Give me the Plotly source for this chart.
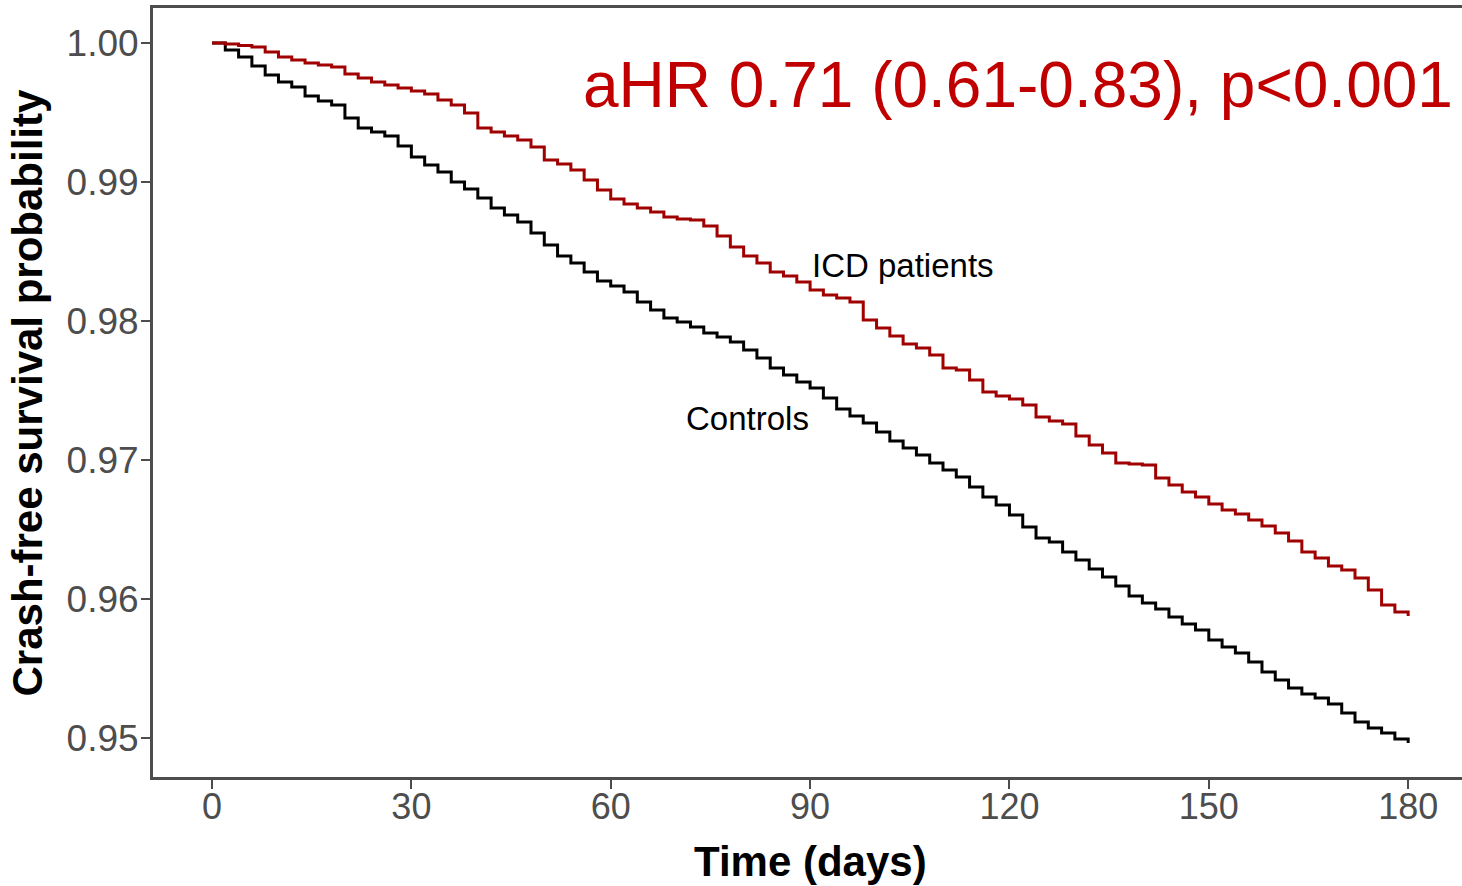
import plotly.graph_objects as go

days = list(range(0, 181, 2))

icd_surv = [
    1.00000, 0.99993, 0.99982, 0.99971, 0.99935, 0.99899, 0.99878, 0.99856, 0.99842, 0.99827,
    0.99777, 0.99748, 0.99719, 0.99698, 0.99676, 0.99655, 0.99633, 0.99590, 0.99554, 0.99496,
    0.99388, 0.99360, 0.99331, 0.99302, 0.99252, 0.99158, 0.99130, 0.99086, 0.99014, 0.98942,
    0.98878, 0.98842, 0.98813, 0.98784, 0.98748, 0.98734, 0.98727, 0.98683, 0.98612, 0.98532,
    0.98468, 0.98417, 0.98353, 0.98324, 0.98281, 0.98223, 0.98187, 0.98166, 0.98137, 0.98007,
    0.97950, 0.97892, 0.97835, 0.97806, 0.97755, 0.97662, 0.97648, 0.97576, 0.97489, 0.97461,
    0.97439, 0.97396, 0.97309, 0.97281, 0.97259, 0.97173, 0.97108, 0.97050, 0.96978, 0.96971,
    0.96964, 0.96871, 0.96820, 0.96770, 0.96734, 0.96684, 0.96640, 0.96612, 0.96568, 0.96525,
    0.96475, 0.96417, 0.96338, 0.96295, 0.96237, 0.96209, 0.96151, 0.96065, 0.95957, 0.95907,
    0.95878,
]

ctrl_surv = [
    1.00000, 0.99950, 0.99899, 0.99835, 0.99770, 0.99719, 0.99683, 0.99619, 0.99583, 0.99554,
    0.99460, 0.99388, 0.99360, 0.99331, 0.99259, 0.99180, 0.99122, 0.99072, 0.99000, 0.98950,
    0.98885, 0.98813, 0.98763, 0.98712, 0.98633, 0.98547, 0.98468, 0.98417, 0.98353, 0.98288,
    0.98252, 0.98209, 0.98137, 0.98079, 0.98022, 0.97993, 0.97957, 0.97914, 0.97885, 0.97849,
    0.97791, 0.97734, 0.97662, 0.97612, 0.97561, 0.97518, 0.97446, 0.97367, 0.97317, 0.97266,
    0.97202, 0.97137, 0.97086, 0.97036, 0.96978, 0.96928, 0.96878, 0.96806, 0.96734, 0.96676,
    0.96604, 0.96518, 0.96439, 0.96410, 0.96338, 0.96281, 0.96216, 0.96158, 0.96094, 0.96022,
    0.95971, 0.95928, 0.95871, 0.95820, 0.95777, 0.95705, 0.95655, 0.95611, 0.95547, 0.95475,
    0.95417, 0.95360, 0.95317, 0.95288, 0.95245, 0.95180, 0.95115, 0.95072, 0.95036, 0.94993,
    0.94964,
]

x_ticks = [0, 30, 60, 90, 120, 150, 180]
y_ticks = [0.95, 0.96, 0.97, 0.98, 0.99, 1.00]
y_tick_labels = ["0.95", "0.96", "0.97", "0.98", "0.99", "1.00"]

hr_text = "aHR 0.71 (0.61-0.83), p<0.001"
x_title = "Time (days)"
y_title = "Crash-free survival probability"

FONT = "Liberation Sans, Arial, sans-serif"
AXIS_COL = "#4D4D4D"

fig = go.Figure()
fig.add_trace(go.Scatter(x=days, y=ctrl_surv, mode="lines", line_shape="hv",
                         line=dict(color="black", width=3), name="Controls"))
fig.add_trace(go.Scatter(x=days, y=icd_surv, mode="lines", line_shape="hv",
                         line=dict(color="#A00000", width=3), name="ICD patients"))

fig.update_layout(
    width=1462, height=886,
    margin=dict(l=153, r=0, t=8, b=109),
    plot_bgcolor="white", paper_bgcolor="white",
    showlegend=False,
    font=dict(family=FONT, color=AXIS_COL),
    xaxis=dict(range=[-8.88, 188.1], tickvals=x_ticks, showgrid=False, zeroline=False,
               showline=True, linecolor=AXIS_COL, linewidth=3, mirror=True,
               ticks="outside", ticklen=9, tickwidth=2, tickcolor=AXIS_COL,
               ticklabelstandoff=-13,
               tickfont=dict(size=36, color=AXIS_COL, family=FONT)),
    yaxis=dict(range=[0.947194, 1.002518], tickvals=y_ticks, ticktext=y_tick_labels,
               showgrid=False, zeroline=False,
               showline=True, linecolor=AXIS_COL, linewidth=3,
               ticks="outside", ticklen=9, tickwidth=2, tickcolor=AXIS_COL,
               ticklabelstandoff=-5,
               tickfont=dict(size=37, color=AXIS_COL, family=FONT)),
)

fig.add_annotation(x=187.1, y=0.99698, xref="x", yref="y", text=hr_text, showarrow=False,
                   xanchor="right", yanchor="middle",
                   font=dict(size=64, color="#C00000", family=FONT))
fig.add_annotation(x=90.0, y=0.98396, xref="x", yref="y", text="ICD patients", showarrow=False,
                   xanchor="left", yanchor="middle",
                   font=dict(size=33, color="black", family=FONT))
fig.add_annotation(x=71.04, y=0.97302, xref="x", yref="y", text="Controls", showarrow=False,
                   xanchor="left", yanchor="middle",
                   font=dict(size=33, color="black", family=FONT))
fig.add_annotation(x=90, y=-0.1105, xref="x", yref="paper", text="<b>" + x_title + "</b>",
                   showarrow=False, xanchor="center", yanchor="middle",
                   font=dict(size=42, color="black", family=FONT))
fig.add_annotation(x=-0.0955, y=0.5, xref="paper", yref="paper", text="<b>" + y_title + "</b>",
                   showarrow=False, xanchor="center", yanchor="middle", textangle=-90,
                   font=dict(size=42, color="black", family=FONT))

fig.write_html("out.html")
